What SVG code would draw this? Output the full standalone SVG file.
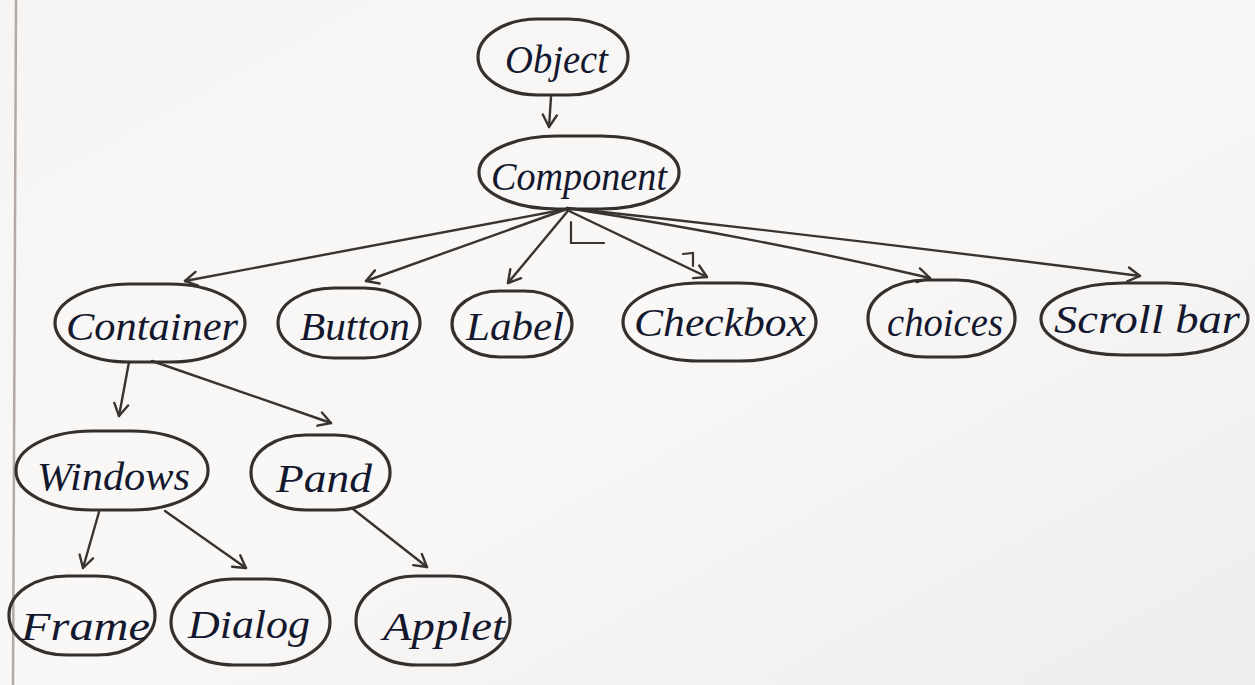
<svg xmlns="http://www.w3.org/2000/svg" width="1255" height="685" viewBox="0 0 1255 685">
  <defs>
    <linearGradient id="paper" x1="0" y1="0" x2="1" y2="1">
      <stop offset="0" stop-color="#f6f5f3"/>
      <stop offset="0.5" stop-color="#f9f8f6"/>
      <stop offset="1" stop-color="#efedeb"/>
    </linearGradient>
    <marker id="arrow" viewBox="-14 -9 16 18" markerWidth="16" markerHeight="18" refX="0" refY="0" orient="auto" markerUnits="userSpaceOnUse">
      <path d="M -12 -7 L 0 0 L -12 7" fill="none" stroke="#3b3330" stroke-width="2.4" stroke-linecap="round" stroke-linejoin="round"/>
    </marker>
    <style>
      .oval { fill: none; stroke: #35302e; stroke-width: 3.2; }
      .lbl { font-family: "Liberation Serif", "DejaVu Serif", serif; font-style: italic; font-size: 40px; fill: #14182e; }
      .edge { fill: none; stroke: #3b3330; stroke-width: 2.4; stroke-linecap: round; marker-end: url(#arrow); }
      .mark { fill: none; stroke: #3b3330; stroke-width: 2.2; stroke-linecap: round; }
    </style>
  </defs>

  <!-- paper -->
  <rect x="0" y="0" width="1255" height="685" fill="url(#paper)"/>
  <line x1="16" y1="0" x2="13" y2="685" stroke="#b3aaa6" stroke-width="2.5"/>

  <!-- connectors -->
  <g id="connectors">
    <path class="edge" d="M 551 97 L 549 127"/>
    <path class="edge" d="M 567 209 L 185 281"/>
    <path class="edge" d="M 567 209 L 366 281"/>
    <path class="edge" d="M 567 212 L 508 283"/>
    <path class="edge" d="M 567 210 L 707 277"/>
    <path class="edge" d="M 567 208 Q 760 238 930 278"/>
    <path class="edge" d="M 567 208 Q 860 240 1140 276"/>
    <path class="mark" d="M 571 222 L 571 243 L 604 243"/>
    <path class="mark" d="M 683 254 L 693 253 L 693 266"/>
    <path class="edge" d="M 129 362 L 119 416"/>
    <path class="edge" d="M 152 361 L 331 423"/>
    <path class="edge" d="M 99 512 L 83 568"/>
    <path class="edge" d="M 165 511 L 246 568"/>
    <path class="edge" d="M 353 509 L 427 567"/>
  </g>

  <!-- nodes -->
  <g id="node-object">
    <rect class="oval" x="478" y="19" width="150" height="76" rx="60" ry="38"/>
    <text class="lbl" x="505" y="73" textLength="103" lengthAdjust="spacingAndGlyphs">Object</text>
  </g>
  <g id="node-component">
    <rect class="oval" x="479" y="136" width="200" height="73" rx="78" ry="36"/>
    <text class="lbl" x="491" y="190" textLength="176" lengthAdjust="spacingAndGlyphs">Component</text>
  </g>
  <g id="node-container">
    <rect class="oval" x="55" y="284" width="190" height="78" rx="75" ry="39"/>
    <text class="lbl" x="66" y="340" textLength="172" lengthAdjust="spacingAndGlyphs">Container</text>
  </g>
  <g id="node-button">
    <rect class="oval" x="278" y="288" width="142" height="70" rx="56" ry="35"/>
    <text class="lbl" x="300" y="340" textLength="110" lengthAdjust="spacingAndGlyphs">Button</text>
  </g>
  <g id="node-label">
    <rect class="oval" x="452" y="291" width="120" height="66" rx="48" ry="33"/>
    <text class="lbl" x="466" y="340" textLength="98" lengthAdjust="spacingAndGlyphs">Label</text>
  </g>
  <g id="node-checkbox">
    <rect class="oval" x="623" y="283" width="193" height="78" rx="76" ry="39"/>
    <text class="lbl" x="634" y="336" textLength="172" lengthAdjust="spacingAndGlyphs">Checkbox</text>
  </g>
  <g id="node-choices">
    <rect class="oval" x="868" y="280" width="147" height="77" rx="58" ry="38"/>
    <text class="lbl" x="887" y="336" textLength="116" lengthAdjust="spacingAndGlyphs">choices</text>
  </g>
  <g id="node-scrollbar">
    <rect class="oval" x="1041" y="283" width="207" height="72" rx="82" ry="36"/>
    <text class="lbl" x="1054" y="333" textLength="186" lengthAdjust="spacingAndGlyphs">Scroll bar</text>
  </g>
  <g id="node-windows">
    <rect class="oval" x="16" y="431" width="192" height="79" rx="76" ry="39"/>
    <text class="lbl" x="37" y="490" textLength="153" lengthAdjust="spacingAndGlyphs">Windows</text>
  </g>
  <g id="node-pand">
    <rect class="oval" x="251" y="435" width="139" height="75" rx="55" ry="37"/>
    <text class="lbl" x="276" y="492" textLength="96" lengthAdjust="spacingAndGlyphs">Pand</text>
  </g>
  <g id="node-frame">
    <rect class="oval" x="9" y="576" width="146" height="79" rx="58" ry="39"/>
    <text class="lbl" x="21" y="640" textLength="129" lengthAdjust="spacingAndGlyphs">Frame</text>
  </g>
  <g id="node-dialog">
    <rect class="oval" x="171" y="579" width="159" height="86" rx="63" ry="43"/>
    <text class="lbl" x="188" y="638" textLength="122" lengthAdjust="spacingAndGlyphs">Dialog</text>
  </g>
  <g id="node-applet">
    <rect class="oval" x="356" y="576" width="154" height="89" rx="61" ry="44"/>
    <text class="lbl" x="383" y="640" textLength="122" lengthAdjust="spacingAndGlyphs">Applet</text>
  </g>
</svg>
